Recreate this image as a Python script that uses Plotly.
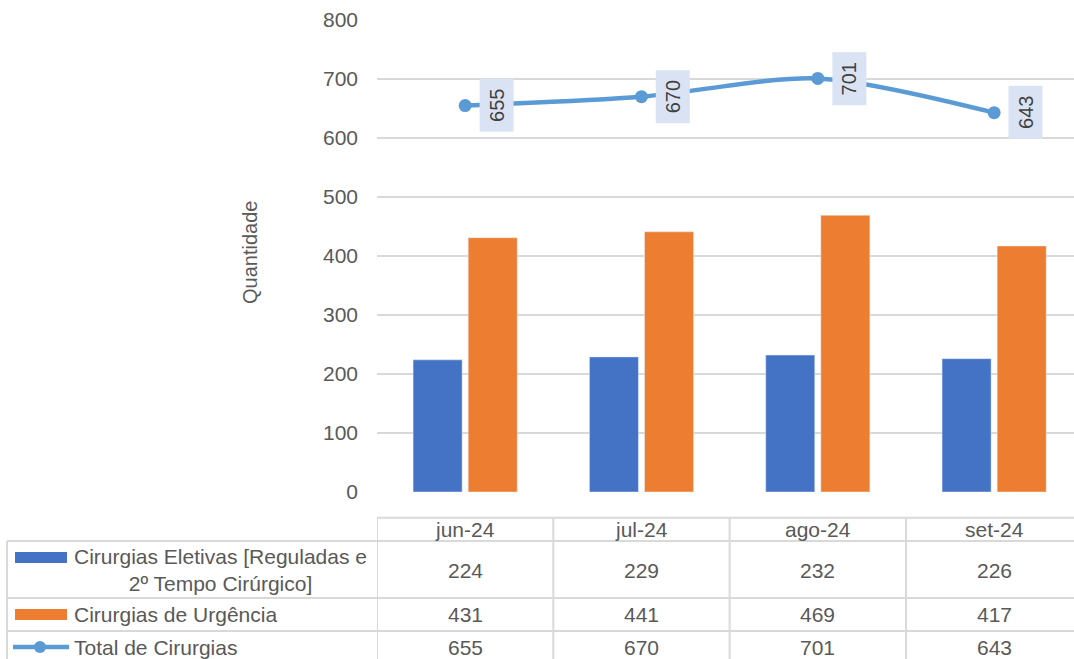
import plotly.graph_objects as go

# ---------------- data ----------------
months = ["jun-24", "jul-24", "ago-24", "set-24"]
eletivas = [224, 229, 232, 226]
urgencia = [431, 441, 469, 417]
total = [655, 670, 701, 643]

series_names = ["Cirurgias Eletivas [Reguladas e<br>2º Tempo Cirúrgico]",
                "Cirurgias de Urgência",
                "Total de Cirurgias"]
y_title = "Quantidade"

# ---------------- styles ----------------
C_BLUE = "#4472C4"
C_ORANGE = "#ED7D31"
C_LINE = "#5B9BD5"
C_TEXT = "#595959"
C_GRID = "#D9D9D9"
FONT = "Liberation Sans, Arial, sans-serif"

W, H = 1074, 659
L, T, B = 377, 20, 167
PW = W - L
PH = H - T - B


def px(x):
    return (x - L) / PW


def py(y):
    return (H - B - y) / PH


fig = go.Figure()
fig.add_trace(go.Bar(x=months, y=eletivas, marker_color=C_BLUE, name="e",
                     showlegend=False))
fig.add_trace(go.Bar(x=months, y=urgencia, marker_color=C_ORANGE, name="u",
                     showlegend=False))
fig.add_trace(go.Scatter(x=months, y=total, mode="lines+markers",
                         line=dict(color=C_LINE, width=4.5, shape="spline", smoothing=0.8),
                         marker=dict(size=13, color=C_LINE), showlegend=False,
                         cliponaxis=False))

annotations = []
shapes = []

# data labels on line
for m, v in zip(months, total):
    annotations.append(dict(x=m, y=v, xref="x", yref="y", text=str(v), showarrow=False,
                            xshift=31.5, textangle=-90, bgcolor="#DAE3F3",
                            width=42, height=23, borderpad=5,
                            xanchor="center", yanchor="middle",
                            font=dict(family=FONT, size=20, color="#404040")))

# y axis title
annotations.append(dict(x=px(250), y=py(253), xref="paper", yref="paper", text=y_title,
                        showarrow=False, textangle=-90, xanchor="center", yanchor="middle",
                        font=dict(family=FONT, size=20, color=C_TEXT)))

# ---------------- data table ----------------
row_y = [py(529), py(570), py(614), py(647)]
values_rows = [eletivas, urgencia, total]
for i, m in enumerate(months):
    annotations.append(dict(x=m, y=row_y[0], xref="x", yref="paper", text=m,
                            xanchor="center", yanchor="middle",
                            showarrow=False, font=dict(family=FONT, size=21, color=C_TEXT)))
    for r, vals in enumerate(values_rows):
        annotations.append(dict(x=m, y=row_y[r + 1], xref="x", yref="paper", text=str(vals[i]),
                                xanchor="center", yanchor="middle",
                                showarrow=False, font=dict(family=FONT, size=21, color=C_TEXT)))

# row labels
label_y = [py(570), py(614), py(647)]
for name, yy in zip(series_names, label_y):
    annotations.append(dict(x=px(72), y=yy, xref="paper", yref="paper", text=name,
                            xanchor="left", yanchor="middle", align="center", showarrow=False,
                            font=dict(family=FONT, size=21, color=C_TEXT)))

line_style = dict(color=C_GRID, width=2)
# horizontal table lines
shapes.append(dict(type="line", xref="paper", yref="paper", x0=px(377), x1=1,
                   y0=py(517.7), y1=py(517.7), line=line_style))
for yy in [541, 598, 631]:
    shapes.append(dict(type="line", xref="paper", yref="paper", x0=px(7), x1=1,
                       y0=py(yy), y1=py(yy), line=line_style))
# vertical table lines
shapes.append(dict(type="line", xref="paper", yref="paper", x0=px(7), x1=px(7),
                   y0=py(541), y1=py(665), line=line_style))
for k in range(len(months)):
    shapes.append(dict(type="line", xref="x", yref="paper", x0=k - 0.5, x1=k - 0.5,
                       y0=py(517.7), y1=py(665), line=line_style))

# legend keys
shapes.append(dict(type="rect", xref="paper", yref="paper", x0=px(15), x1=px(67),
                   y0=py(552), y1=py(563), fillcolor=C_BLUE, line=dict(width=0)))
shapes.append(dict(type="rect", xref="paper", yref="paper", x0=px(15), x1=px(67),
                   y0=py(609), y1=py(620), fillcolor=C_ORANGE, line=dict(width=0)))
shapes.append(dict(type="line", xref="paper", yref="paper", x0=px(13), x1=px(69),
                   y0=py(647), y1=py(647), line=dict(color=C_LINE, width=4.5)))
shapes.append(dict(type="circle", xref="paper", yref="paper", x0=px(34), x1=px(46),
                   y0=py(641), y1=py(653), fillcolor=C_LINE, line=dict(width=0)))

fig.update_layout(
    width=W, height=H, autosize=False,
    margin=dict(l=L, r=0, t=T, b=B, pad=0),
    paper_bgcolor="white", plot_bgcolor="white",
    barmode="group", bargap=0.375, bargroupgap=0.11,
    showlegend=False,
    font=dict(family=FONT, color=C_TEXT),
    annotations=annotations, shapes=shapes,
    xaxis=dict(type="category", range=[-0.5, 3.453], showticklabels=False,
               showgrid=False, zeroline=False, showline=False, ticks="", fixedrange=True),
    yaxis=dict(range=[0, 800], dtick=100, showgrid=True, gridcolor=C_GRID, gridwidth=1.5,
               zeroline=False, showline=False, ticks="", ticklabelstandoff=18,
               tickfont=dict(family=FONT, size=21, color=C_TEXT), fixedrange=True),
)

fig.write_html("out.html", config={"displayModeBar": False},
               post_script="document.body.style.margin='0';document.body.style.overflow='hidden';")
